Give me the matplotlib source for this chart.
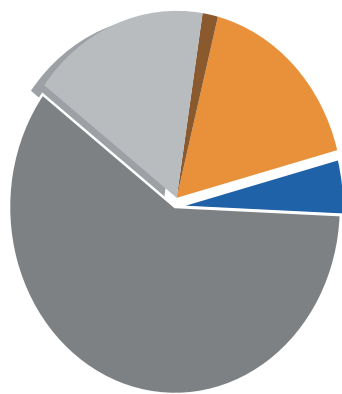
import matplotlib
matplotlib.use("Agg")
import matplotlib.pyplot as plt

# slice shares (percent), counter-clockwise from the right
shares = [4.8, 16.9, 1.5, 17.2, 59.6]
colors = ["#1f62a8", "#e8913a", "#8a5a2e", "#b9bcbf", "#7e8184"]
explode = [0.02, 0.05, 0.05, 0.05, 0.0]

fig = plt.figure(figsize=(3.42, 3.94), dpi=100)
ax = fig.add_axes([0, 0, 1, 1])

wedges, _ = ax.pie(shares, colors=colors, explode=explode, startangle=-2.5,
                   wedgeprops=dict(edgecolor="white", linewidth=0))

# orange, brown and light grey move together as one block
for i in (1, 3):
    wedges[i].set_center(wedges[2].center)

# darker rim under the light grey slice (3D side)
cx, cy = wedges[3].center
rim, _ = ax.pie(shares, startangle=-2.5, center=(cx - 0.08, cy - 0.03),
                colors=["none", "none", "none", "#9da0a4", "none"],
                wedgeprops=dict(linewidth=0))
for w in rim:
    w.set_zorder(0)
for w in wedges:
    w.set_zorder(1)
wedges[4].set_zorder(2)
wedges[0].set_zorder(2)

for i in (0, 4):
    wedges[i].set_linewidth(1.8)
    wedges[i].set_edgecolor("white")

ax.set_aspect("auto")
ax.set_xlim(-175 / 166, 167 / 166)
ax.set_ylim(-1.0, 207 / 187)
ax.axis("off")

fig.savefig("out.png", dpi=100)
